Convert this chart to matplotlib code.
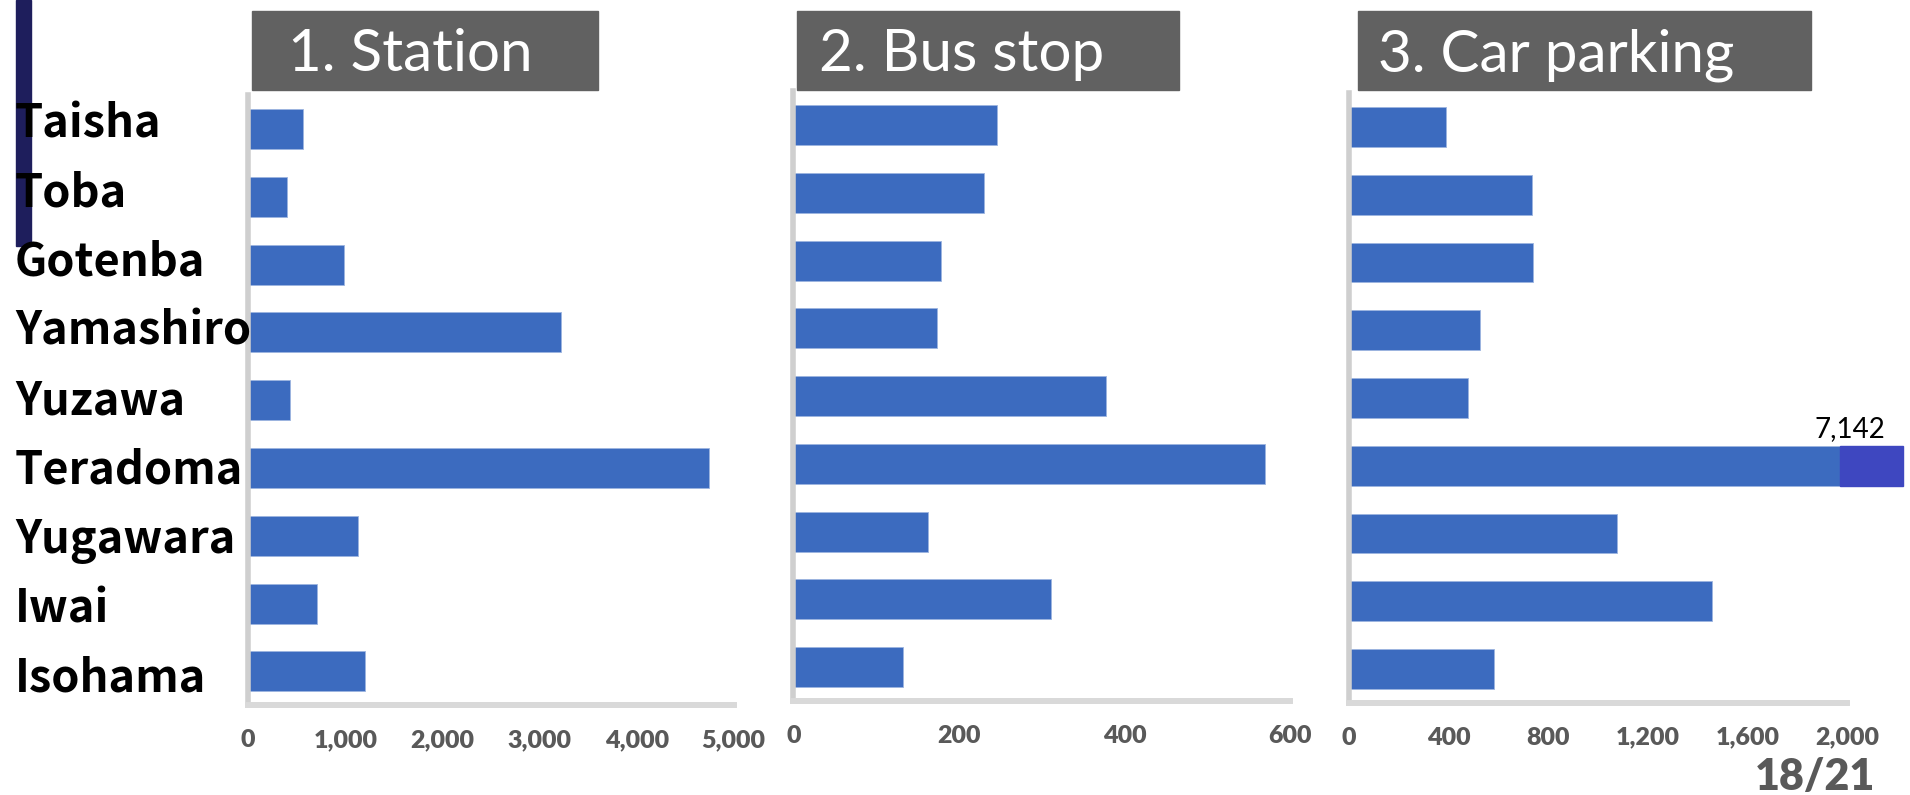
import matplotlib
matplotlib.use("Agg")
import matplotlib.pyplot as plt
from matplotlib.patches import Rectangle
from matplotlib.ticker import FuncFormatter

# ---------------- data ----------------
categories = ["Taisha", "Toba", "Gotenba", "Yamashiro", "Yuzawa",
              "Teradoma", "Yugawara", "Iwai", "Isohama"]
station = [569, 404, 982, 3223, 428, 4746, 1127, 713, 1207]
bus_stop = [246, 230, 178, 173, 377, 569, 163, 311, 133]
car_parking = [388, 734, 739, 526, 476, 7142, 1075, 1458, 583]
titles = ["1. Station", "2. Bus stop", "3. Car parking"]
station_ticks = [0, 1000, 2000, 3000, 4000, 5000]
bus_ticks = [0, 200, 400, 600]
car_ticks = [0, 400, 800, 1200, 1600, 2000]
page_label = "18/21"

# ---------------- layout ----------------
W, H = 1910, 795
fig = plt.figure(figsize=(W / 100, H / 100), dpi=100)


def px_rect(left, right, top, bottom):
    return [left / W, 1 - bottom / H, (right - left) / W, (bottom - top) / H]


BAR = "#3C6BBF"
panels = [
    (px_rect(248.2, 733.7, 95.1, 705.4), station, station_ticks),
    (px_rect(793.3, 1290.4, 91.4, 700.9), bus_stop, bus_ticks),
    (px_rect(1349.2, 1847.0, 93.1, 702.9), car_parking, car_ticks),
]

axes = []
for rect, vals, ticks in panels:
    ax = fig.add_axes(rect)
    ax.barh(range(len(categories)), vals, height=0.59, color=BAR,
            edgecolor="#9CB4E0", linewidth=0.6, zorder=1)
    ax.set_xlim(ticks[0], ticks[-1])
    ax.set_ylim(len(categories) - 0.5, -0.5)
    ax.set_xticks(ticks)
    ax.xaxis.set_major_formatter(FuncFormatter(lambda v, p: f"{int(v):,}"))
    ax.set_yticks([])
    for s in ("top", "right"):
        ax.spines[s].set_visible(False)
    ax.spines["left"].set_color("#CFCFCF")
    ax.spines["left"].set_linewidth(4.0)
    ax.spines["bottom"].set_color("#D9D9D9")
    ax.spines["bottom"].set_linewidth(4.3)
    ax.tick_params(axis="x", length=0, pad=17, labelsize=18,
                   labelcolor="#595959")
    for lab in ax.get_xticklabels():
        lab.set_fontfamily("Lato")
        lab.set_fontweight("heavy")
    ax.patch.set_alpha(0)
    axes.append(ax)

# broken-bar marker for the out-of-range car parking value
ax3 = axes[2]
big = car_parking.index(max(car_parking))
ax3.add_patch(Rectangle((1972, big - 0.295), 254, 0.59, color="#3E47C0",
                        clip_on=False, zorder=3))
ax3.text(2010, big - 0.42, f"{max(car_parking):,}", ha="center",
         va="baseline", fontsize=20, family="Lato", color="black",
         clip_on=False)

# navy accent bar at top-left
fig.patches.append(Rectangle((15.5 / W, 1 - 246 / H), 15.5 / W, 246 / H,
                             transform=fig.transFigure, color="#1E1E5C",
                             zorder=0))

# category labels
for i, name in enumerate(categories):
    y = 137 + i * 69.3
    fig.text(15 / W, 1 - y / H, name, ha="left", va="baseline",
             fontsize=32.5, family=["Noto Sans CJK JP", "DejaVu Sans"],
             fontweight="bold", color="black", zorder=5)

# title boxes
boxes = [(252, 598, 288), (797, 1179, 819), (1358, 1811, 1378)]
for (x0, x1, tx), t in zip(boxes, titles):
    fig.patches.append(Rectangle((x0 / W, 1 - 90 / H), (x1 - x0) / W, 79 / H,
                                 transform=fig.transFigure, color="#616161",
                                 zorder=0))
    fig.text(tx / W, 1 - 71 / H, t, ha="left", va="baseline", fontsize=42,
             family="Lato", fontweight="normal", color="white")

fig.text(1875 / W, 1 - 790 / H, page_label, ha="right", va="baseline",
         fontsize=31, family="Lato", fontweight="heavy", color="#595959")

fig.savefig("out.png", dpi=100)
